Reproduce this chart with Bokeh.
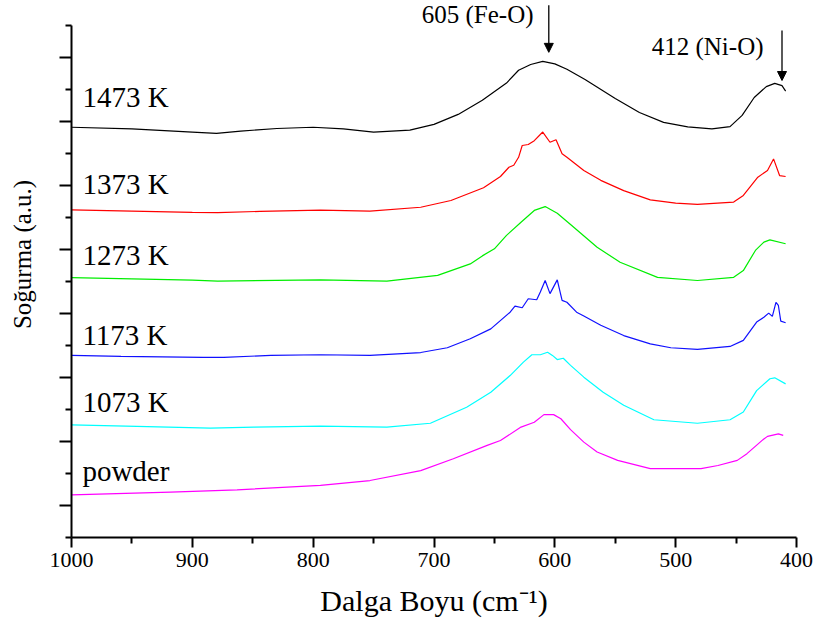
import math
from bokeh.plotting import figure
from bokeh.layouts import row
from bokeh.models import (Range1d, FixedTicker, Label, Arrow, NormalHead,
                          CustomJSTickFormatter)
from bokeh.core.properties import value
from bokeh.embed import file_html
from bokeh.resources import INLINE

# FTIR spectra, stacked with a vertical offset (wavenumber in cm^-1, absorbance a.u.)
wn_1473 = [1000, 950, 900, 880, 860, 830, 800, 775, 750, 720, 700, 680, 660, 640, 630, 620,
           610, 600, 590, 575, 550, 530, 510, 490, 470, 455, 445, 435, 425, 418, 412, 409]
ab_1473 = [12.82, 12.77, 12.67, 12.63, 12.70, 12.78, 12.82, 12.77, 12.67, 12.73, 12.91, 13.22,
           13.66, 14.20, 14.60, 14.78, 14.88, 14.80, 14.63, 14.31, 13.72, 13.28, 12.97, 12.83,
           12.77, 12.84, 13.19, 13.75, 14.09, 14.19, 14.12, 13.95]

wn_1373 = [1000, 950, 900, 879, 844, 794, 753, 711, 686, 659, 645, 638, 634, 630, 627, 622,
           617, 610, 604, 599, 594, 590, 576, 562, 543, 521, 500, 482, 452, 444, 432, 424,
           419, 414, 409]
ab_1373 = [10.24, 10.20, 10.16, 10.15, 10.19, 10.23, 10.20, 10.32, 10.53, 10.93, 11.28, 11.57,
           11.63, 11.88, 12.25, 12.28, 12.40, 12.67, 12.35, 12.43, 11.99, 11.88, 11.47, 11.16,
           10.84, 10.55, 10.45, 10.41, 10.48, 10.69, 11.26, 11.47, 11.83, 11.31, 11.28]

wn_1273 = [1000, 950, 900, 879, 794, 739, 697, 670, 660, 650, 640, 628, 617, 608, 598, 587,
           565, 546, 515, 482, 452, 444, 434, 427, 422, 409]
ab_1273 = [8.12, 8.08, 8.04, 8.01, 8.05, 8.01, 8.19, 8.55, 8.80, 9.02, 9.44, 9.85, 10.22,
           10.34, 10.13, 9.78, 9.07, 8.60, 8.13, 8.03, 8.13, 8.34, 8.97, 9.23, 9.30, 9.18]

wn_1173 = [1000, 959, 891, 874, 835, 794, 753, 711, 689, 670, 653, 637, 633, 627, 622, 615,
           612, 608, 604, 598, 594, 590, 582, 576, 562, 543, 521, 504, 482, 455, 444, 433,
           427, 423, 420, 417, 415, 413, 409]
ab_1173 = [5.69, 5.66, 5.63, 5.63, 5.69, 5.71, 5.69, 5.78, 5.93, 6.21, 6.52, 7.04, 7.23,
           7.18, 7.46, 7.43, 7.67, 8.03, 7.62, 8.05, 7.41, 7.35, 7.04, 6.92, 6.63, 6.31,
           6.05, 5.93, 5.88, 5.97, 6.16, 6.73, 6.88, 7.01, 6.91, 7.35, 7.25, 6.76, 6.71]

wn_1073 = [1000, 946, 885, 849, 794, 739, 703, 673, 653, 637, 626, 619, 612, 606, 602, 598,
           593, 587, 576, 560, 543, 518, 482, 455, 444, 433, 422, 418, 409]
ab_1073 = [3.52, 3.47, 3.42, 3.45, 3.48, 3.45, 3.57, 4.07, 4.54, 5.06, 5.48, 5.71, 5.71,
           5.79, 5.69, 5.56, 5.60, 5.38, 5.01, 4.54, 4.13, 3.68, 3.57, 3.68, 3.92, 4.59,
           4.96, 4.99, 4.80]

wn_powder = [1000, 918, 863, 794, 753, 711, 684, 656, 645, 628, 617, 609, 601, 595, 587, 576,
             565, 548, 521, 479, 465, 449, 441, 427, 424, 415, 411]
ab_powder = [1.33, 1.42, 1.49, 1.63, 1.78, 2.09, 2.46, 2.88, 3.03, 3.45, 3.60, 3.84, 3.84,
             3.71, 3.37, 2.98, 2.67, 2.41, 2.15, 2.15, 2.25, 2.41, 2.62, 3.08, 3.16, 3.24, 3.19]

sample_names = ["1473 K", "1373 K", "1273 K", "1173 K", "1073 K", "powder"]
band_positions = [605, 412]
band_names = ["605 (Fe-O)", "412 (Ni-O)"]

x_ticks = [1000, 900, 800, 700, 600, 500, 400]

SERIF = "Liberation Serif"
SIDE_W = 40          # strip holding the vertical axis title
TOTAL_W, TOTAL_H = 819, 628

series = [
    (wn_1473, ab_1473, "#000000"),
    (wn_1373, ab_1373, "#ff0000"),
    (wn_1273, ab_1273, "#00ee00"),
    (wn_1173, ab_1173, "#1010ff"),
    (wn_1073, ab_1073, "#00ffff"),
    (wn_powder, ab_powder, "#ff00ff"),
]

p = figure(width=TOTAL_W - SIDE_W, height=TOTAL_H,
           x_range=Range1d(1000, 400), y_range=Range1d(0, 16.78),
           output_backend="svg", toolbar_location=None,
           min_border_left=71 - SIDE_W, min_border_right=23,
           min_border_top=0, min_border_bottom=91)
p.outline_line_color = None
p.grid.visible = False
p.background_fill_color = "white"
p.border_fill_color = "white"

for xs, ys, col in series:
    p.line(xs, ys, line_color=col, line_width=1.2)

# bottom axis
xa = p.xaxis[0]
xa.ticker = FixedTicker(ticks=x_ticks,
                        minor_ticks=[t + 50 for t in x_ticks[1:]])
xa.axis_line_width = 2
xa.major_tick_line_width = 2
xa.minor_tick_line_width = 2
xa.major_tick_in = 0
xa.major_tick_out = 10
xa.minor_tick_in = 0
xa.minor_tick_out = 6
xa.major_label_text_font = SERIF
xa.major_label_text_font_size = "22px"
xa.major_label_text_color = "black"
xa.axis_label = "Dalga Boyu (cm\u207b\u00b9)"
xa.axis_label_text_font = SERIF
xa.axis_label_text_font_size = "30px"
xa.axis_label_text_font_style = "normal"
xa.axis_label_text_color = "black"
xa.axis_label_standoff = 14

# left axis: ticks only, no numbers
ya = p.yaxis[0]
ya.bounds = (0, 16)
ya.ticker = FixedTicker(ticks=[1, 3, 5, 7, 9, 11, 13, 15],
                        minor_ticks=[0, 2, 4, 6, 8, 10, 12, 14, 16])
ya.formatter = CustomJSTickFormatter(code="return ''")
ya.axis_line_width = 2
ya.major_tick_line_width = 2
ya.minor_tick_line_width = 2
ya.major_tick_in = 0
ya.major_tick_out = 12
ya.minor_tick_in = 0
ya.minor_tick_out = 6
ya.major_label_standoff = 0

# sample labels above each trace
label_y = [13.76, 11.05, 8.83, 6.33, 4.23, 2.08]
for name, yy in zip(sample_names, label_y):
    p.add_layout(Label(x=991, y=yy, text=name, text_align="left",
                       text_baseline="alphabetic", text_font=SERIF,
                       text_font_size="29px", text_color="black"))

# band markers
arrow_spans = [(16.63, 15.16), (15.84, 14.28)]
text_anchor = [(617.6, 16.34), (427.3, 15.34)]
for pos, name, (y0, y1), (tx, ty) in zip(band_positions, band_names, arrow_spans, text_anchor):
    p.add_layout(Arrow(end=NormalHead(size=9, fill_color="black", line_color="black"),
                       x_start=pos, y_start=y0, x_end=pos, y_end=y1,
                       line_color="black", line_width=1.3))
    p.add_layout(Label(x=tx, y=ty, text=name, text_align="right",
                       text_baseline="alphabetic", text_font=SERIF,
                       text_font_size="25px", text_color="black"))

# narrow strip on the left carrying the vertical axis title
side = figure(width=SIDE_W, height=TOTAL_H,
              x_range=Range1d(0, SIDE_W), y_range=Range1d(0, TOTAL_H),
              output_backend="svg", toolbar_location=None,
              x_axis_location=None, y_axis_location=None,
              min_border_left=0, min_border_right=0,
              min_border_top=0, min_border_bottom=0)
side.outline_line_color = None
side.grid.visible = False
side.background_fill_color = "white"
side.border_fill_color = "white"
side.text(x=[22], y=[TOTAL_H - 297], text=["So\u011furma (a.u.)"], angle=math.pi / 2,
          text_align="center", text_baseline="middle",
          text_font=value(SERIF), text_font_size="25px", text_color="black")

layout = row(side, p, spacing=0)
open("out.html", "w").write(file_html(layout, INLINE))
